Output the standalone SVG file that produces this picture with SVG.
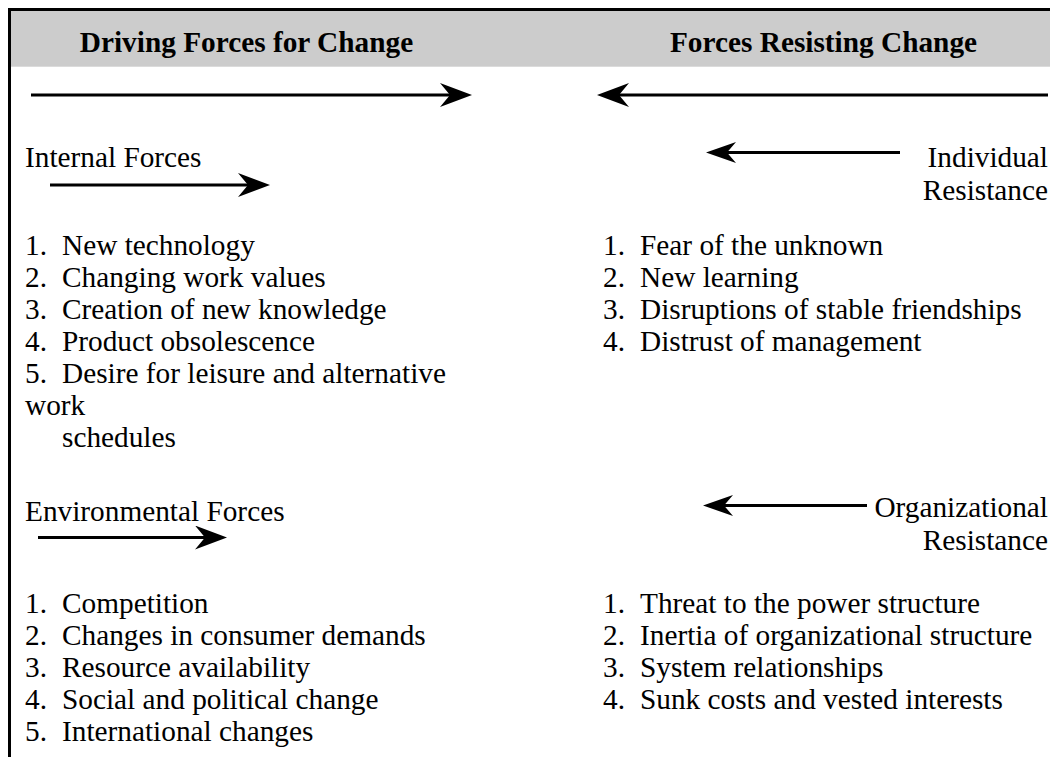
<svg xmlns="http://www.w3.org/2000/svg" width="1050" height="757" viewBox="0 0 1050 757">
  <style>
    .hd { font-weight: bold; text-anchor: middle; }
    .rt { text-anchor: end; }
    .ln { stroke: #000; stroke-width: 3.2; fill: none; }
  </style>
  <defs>
    <marker id="head" markerUnits="userSpaceOnUse" viewBox="0 0 32 24" markerWidth="32" markerHeight="24" refX="10" refY="12" orient="auto">
      <path d="M0,0 L32,12 L0,24 L10,12 Z" fill="#000"/>
    </marker>
    <marker id="headSm" markerUnits="userSpaceOnUse" viewBox="0 0 30 21" markerWidth="30" markerHeight="21" refX="9" refY="10.5" orient="auto">
      <path d="M0,0 L30,10.5 L0,21 L9,10.5 Z" fill="#000"/>
    </marker>
  </defs>

  <rect width="1050" height="757" fill="#fff"/>

  <!-- table header band and frame -->
  <g id="frame">
    <rect x="11" y="11" width="1039" height="55.7" fill="#cccccc"/>
    <path d="M9.5,757 L9.5,9.5 L1050,9.5" stroke="#000" stroke-width="3" fill="none"/>
  </g>

  <!-- force arrows -->
  <g id="connectors">
    <line class="ln" x1="31" y1="95" x2="450" y2="95" marker-end="url(#head)"/>
    <line class="ln" x1="1048" y1="95" x2="619" y2="95" marker-end="url(#head)"/>
    <line class="ln" x1="50" y1="185" x2="248" y2="185" marker-end="url(#head)"/>
    <line class="ln" x1="38" y1="537.5" x2="205" y2="537.5" marker-end="url(#head)"/>
    <line class="ln" x1="900" y1="152.5" x2="727" y2="152.5" marker-end="url(#headSm)"/>
    <line class="ln" x1="867" y1="505.5" x2="724" y2="505.5" marker-end="url(#headSm)"/>
  </g>

  <g font-family="Liberation Serif, Times New Roman, DejaVu Serif, serif" font-size="29.3" fill="#000">
    <g id="header-driving">
      <text class="hd" x="246.5" y="52">Driving Forces for Change</text>
    </g>
    <g id="header-resisting">
      <text class="hd" x="823.5" y="52">Forces Resisting Change</text>
    </g>

    <g id="internal-forces">
      <text x="25" y="167">Internal Forces</text>
      <text y="255"><tspan x="25">1.</tspan><tspan x="62">New technology</tspan></text>
      <text y="287"><tspan x="25">2.</tspan><tspan x="62">Changing work values</tspan></text>
      <text y="319"><tspan x="25">3.</tspan><tspan x="62">Creation of new knowledge</tspan></text>
      <text y="351"><tspan x="25">4.</tspan><tspan x="62">Product obsolescence</tspan></text>
      <text y="383"><tspan x="25">5.</tspan><tspan x="62">Desire for leisure and alternative</tspan></text>
      <text x="25" y="415">work</text>
      <text x="62" y="447">schedules</text>
    </g>

    <g id="environmental-forces">
      <text x="25" y="521">Environmental Forces</text>
      <text y="613"><tspan x="25">1.</tspan><tspan x="62">Competition</tspan></text>
      <text y="645"><tspan x="25">2.</tspan><tspan x="62">Changes in consumer demands</tspan></text>
      <text y="677"><tspan x="25">3.</tspan><tspan x="62">Resource availability</tspan></text>
      <text y="709"><tspan x="25">4.</tspan><tspan x="62">Social and political change</tspan></text>
      <text y="741"><tspan x="25">5.</tspan><tspan x="62">International changes</tspan></text>
    </g>

    <g id="individual-resistance">
      <text class="rt" x="1048" y="167">Individual</text>
      <text class="rt" x="1048" y="200">Resistance</text>
      <text y="255"><tspan x="603">1.</tspan><tspan x="640">Fear of the unknown</tspan></text>
      <text y="287"><tspan x="603">2.</tspan><tspan x="640">New learning</tspan></text>
      <text y="319"><tspan x="603">3.</tspan><tspan x="640">Disruptions of stable friendships</tspan></text>
      <text y="351"><tspan x="603">4.</tspan><tspan x="640">Distrust of management</tspan></text>
    </g>

    <g id="organizational-resistance">
      <text class="rt" x="1048" y="517">Organizational</text>
      <text class="rt" x="1048" y="550">Resistance</text>
      <text y="613"><tspan x="603">1.</tspan><tspan x="640">Threat to the power structure</tspan></text>
      <text y="645"><tspan x="603">2.</tspan><tspan x="640">Inertia of organizational structure</tspan></text>
      <text y="677"><tspan x="603">3.</tspan><tspan x="640">System relationships</tspan></text>
      <text y="709"><tspan x="603">4.</tspan><tspan x="640">Sunk costs and vested interests</tspan></text>
    </g>
  </g>
</svg>
